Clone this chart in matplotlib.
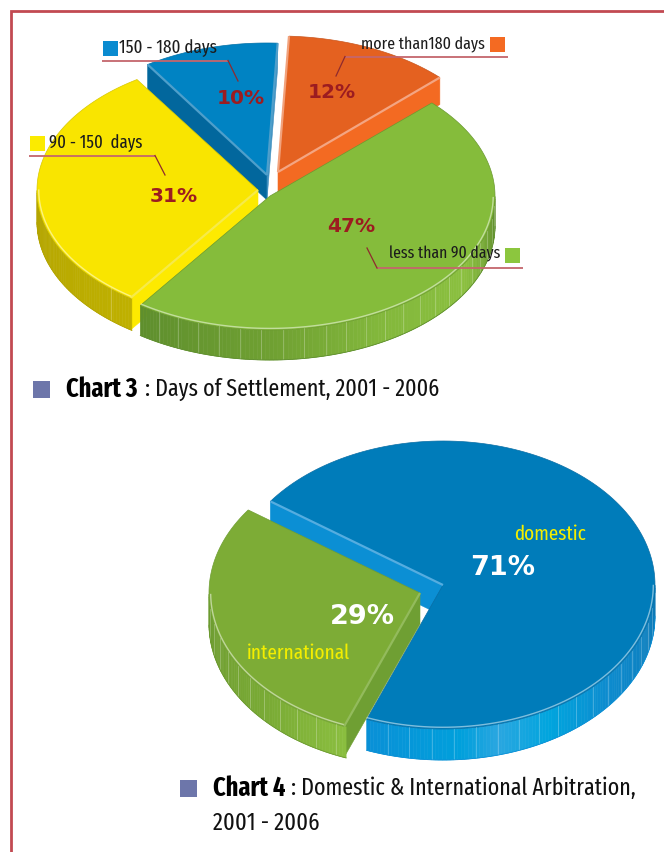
import numpy as np
import matplotlib
matplotlib.use("Agg")
import matplotlib.pyplot as plt
from matplotlib.colors import to_rgb
from matplotlib.patches import Polygon, Rectangle

# Days of settlement, in pie order (clockwise)
settlement_labels = ["less than 90 days", "90 - 150  days", "150 - 180 days", "more than180 days"]
settlement_values = [47, 31, 10, 12]

# Domestic and international arbitration
arbitration_labels = ["domestic", "international"]
arbitration_values = [71, 29]

NARROW = ["Fira Sans Extra Condensed", "PT Sans Narrow", "Lato", "DejaVu Sans"]
FRAME_RED = "#c24a52"
DARK_RED = "#9c1c20"
CAPTION_BLUE = "#6d76aa"


def ellipse_points(p, angles):
    rad = np.radians(angles)
    x = p["cx"] + p["rx"] * np.cos(rad)
    y = p["cy"] - p["ry"] * np.sin(rad)
    return x, y


def rim_color(stops, angle):
    keys = [s[0] for s in stops]
    rgb = np.array([to_rgb(s[1]) for s in stops])
    return [np.interp(angle, keys, rgb[:, i]) for i in range(3)]


def draw_cut(ax, p, angle, color):
    '''flat side of a slice, from the centre out to the edge'''
    x, y = ellipse_points(p, np.array([angle]))
    pts = [(p["cx"], p["cy"]), (x[0], y[0]), (x[0], y[0] + p["depth"]), (p["cx"], p["cy"] + p["depth"])]
    ax.add_patch(Polygon(pts, closed=True, fc=color, ec=color, lw=0.4))


def draw_rim(ax, p, start, end):
    '''outer wall of a slice: shaded in one degree steps, with light ribs'''
    steps = np.arange(end, start + 1, 1.0)
    steps = steps[np.sin(np.radians(steps)) <= 0]
    if len(steps) < 2:
        return
    steps = np.mod(steps, 360)
    for a, b in zip(steps[:-1], steps[1:]):
        if b < a:
            continue
        x, y = ellipse_points(p, np.array([a, b]))
        color = rim_color(p["rim"], (a + b) / 2)
        pts = [(x[0], y[0]), (x[1], y[1]), (x[1], y[1] + p["depth"]), (x[0], y[0] + p["depth"])]
        ax.add_patch(Polygon(pts, closed=True, fc=color, ec=color, lw=0.4))
    for a in np.arange(steps[0] + p["rib"], steps[-1], p["rib"]):
        x, y = ellipse_points(p, np.array([a]))
        ax.plot([x[0], x[0]], [y[0], y[0] + p["depth"]], color="white", alpha=0.28, lw=0.6)
    x, y = ellipse_points(p, steps)
    ax.plot(x, y + p["depth"], color=p["rim"][0][1], lw=0.6)


def draw_slice(ax, p, start, end):
    '''start and end are ellipse angles, going clockwise from start to end'''
    for angle, color in p["cuts"]:
        draw_cut(ax, p, start if angle == "start" else end, color)
    draw_rim(ax, p, start, end)
    arc = np.linspace(start, end, 160)
    x, y = ellipse_points(p, arc)
    pts = np.column_stack([np.r_[p["cx"], x], np.r_[p["cy"], y]])
    ax.add_patch(Polygon(pts, closed=True, fc=p["top"], ec=p["line"], lw=0.5))
    # pale bevel running round the front of the top face
    front = arc[np.sin(np.radians(arc)) < 0]
    if len(front) > 1:
        inner = dict(p, rx=p["rx"] * 0.992, ry=p["ry"] * 0.988)
        x, y = ellipse_points(inner, front)
        ax.plot(x, y, color="white", alpha=0.5, lw=1.0)
    for angle, color in p["bevels"]:
        a = start if angle == "start" else end
        x, y = ellipse_points(p, np.array([a]))
        ax.plot([p["cx"], x[0]], [p["cy"], y[0]], color=color, lw=1.6, solid_capstyle="butt")


def slice_angles(values, first_angle):
    '''turn percentages into clockwise (start, end) pairs'''
    edges = first_angle - np.cumsum(np.r_[0, values]) * 3.6
    return [(edges[i], edges[i + 1]) for i in range(len(values))]


def caption(ax, x, y, bold, rest, rest_x):
    ax.text(x, y, bold, family=NARROW, fontweight="bold", fontsize=19, color="black", va="center")
    ax.text(rest_x, y, rest, family=NARROW, fontsize=17.2, color="#111111", va="center")


def leader(ax, xs, ys):
    ax.plot(xs[:2], ys[:2], color="#c4666c", lw=1.3, solid_capstyle="butt")
    ax.plot(xs[1:], ys[1:], color="#8f2a2e", lw=0.9)


fig = plt.figure(figsize=(6.64, 8.52), dpi=100)
ax = fig.add_axes([0, 0, 1, 1])
ax.set_xlim(0, 664)
ax.set_ylim(852, 0)
ax.axis("off")

# page frame, open on the right and at the bottom
ax.plot([10.5, 10.5, 664], [852, 11, 11], color=FRAME_RED, lw=2.0, solid_joinstyle="miter")

# Chart 3
base3 = dict(rx=228, ry=132, depth=30, rib=5.5)
green3 = dict(base3, cx=270, cy=196, rx=225, ry=134, top="#85bc3b", line="#6b9a30", cuts=[], bevels=[],
              rim=[(234, "#5e8e2d"), (270, "#6fa032"), (300, "#83b83c"), (330, "#8bc03f"), (350, "#6a9a30"), (360, "#5f8f2c")])
yellow3 = dict(base3, cx=258, cy=190, rx=221, depth=32, rib=48, top="#f9e500", line="#d8c800",
               cuts=[("start", "#fdea00")], bevels=[("start", "#f6ea4a")],
               rim=[(180, "#b3a400"), (234, "#bfb000")])
blue3 = dict(base3, cx=267, cy=175, rx=218, depth=25, top="#0083c3", line="#0070a8",
             cuts=[("start", "#02679d"), ("end", "#3f90c0")], bevels=[("start", "#4e9fcb"), ("end", "#4e9fcb")],
             rim=[(0, "#02679d"), (360, "#02679d")])
orange3 = dict(base3, cx=278, cy=172, rx=225, ry=136, depth=27, top="#e46120", line="#c9551c",
               cuts=[("end", "#f36a22")], bevels=[("start", "#f2a27c"), ("end", "#f4a582")],
               rim=[(0, "#f36a22"), (360, "#f36a22")])

angles3 = slice_angles(settlement_values, 44)
for style, (start, end) in [(blue3, angles3[2]), (orange3, angles3[3]), (yellow3, angles3[1]), (green3, angles3[0])]:
    draw_slice(ax, style, start, end)

# legend keys and leader lines
ax.add_patch(Rectangle((103, 41), 15, 15, fc="#0a8bd0", ec="none"))
ax.add_patch(Rectangle((30, 136), 15, 15, fc="#fbeb00", ec="none"))
ax.add_patch(Rectangle((490, 37), 15, 15, fc="#f46a22", ec="none"))
ax.add_patch(Rectangle((505, 248), 15, 15, fc="#8cc63e", ec="none"))
leader(ax, [102, 228, 238], [60.5, 60.5, 81])
leader(ax, [29, 155, 165], [155.5, 155.5, 175])
leader(ax, [508, 345, 336], [56.5, 56.5, 76])
leader(ax, [523, 377, 367], [268, 268, 248])

label_style = dict(family=NARROW, color="#1c1c1c", va="center")
ax.text(119, 48.5, settlement_labels[2], fontsize=13.3, **label_style)
ax.text(49, 143.5, settlement_labels[1], fontsize=13, **label_style)
ax.text(485, 45, settlement_labels[3], ha="right", fontsize=12.5, **label_style)
ax.text(500, 254, settlement_labels[0], ha="right", fontsize=12.3, **label_style)

pct_style = dict(fontweight="bold", fontsize=14.5, color=DARK_RED, ha="center", va="center")
ax.text(351, 227, "%d%%" % settlement_values[0], **pct_style)
ax.text(174, 196, "%d%%" % settlement_values[1], **pct_style)
ax.text(241, 98, "%d%%" % settlement_values[2], **pct_style)
ax.text(332, 93, "%d%%" % settlement_values[3], **pct_style)

ax.add_patch(Rectangle((33, 381), 17, 17, fc=CAPTION_BLUE, ec="none"))
caption(ax, 66, 389, "Chart 3", ": Days of Settlement, 2001 - 2006", 145)

# Chart 4
base4 = dict(rx=209, ry=143, depth=31, rib=6.0)
blue4 = dict(base4, cx=443, cy=585, rx=212, ry=144, top="#007cba", line="#0a6ea5",
             cuts=[("start", "#0b8fd4")], bevels=[("start", "#55ade0")],
             rim=[(248, "#0a8fd6"), (275, "#00a0dc"), (285, "#2aa6e0"), (300, "#00a5de"), (320, "#0d8ccf"), (360, "#0c78b5")])
green4 = dict(base4, cx=420, cy=593, rx=211, top="#7dac36", line="#6f9f33",
              cuts=[("start", "#6f9f33")], bevels=[("start", "#93bb5c")],
              rim=[(180, "#6b992f"), (225, "#7aab35"), (252, "#8cc040")])

angles4 = slice_angles(arbitration_values, 144.5)
draw_slice(ax, blue4, *angles4[0])
draw_slice(ax, green4, *angles4[1])

big_pct = dict(fontweight="bold", fontsize=19.5, color="white", ha="center", va="center")
ax.text(503, 568, "%d%%" % arbitration_values[0], **big_pct)
ax.text(362, 617, "%d%%" % arbitration_values[1], **big_pct)
name_style = dict(family=NARROW, fontsize=15, color="#f3ee00", ha="center", va="center")
ax.text(550, 534, arbitration_labels[0], **name_style)
ax.text(299, 653, arbitration_labels[1], **name_style)

ax.add_patch(Rectangle((180, 780), 17, 17, fc=CAPTION_BLUE, ec="none"))
caption(ax, 213, 788, "Chart 4", ": Domestic & International Arbitration,", 291)
ax.text(213, 823, "2001 - 2006", family=NARROW, fontsize=17.6, color="#111111", va="center")

plt.savefig("out.png", dpi=100)
